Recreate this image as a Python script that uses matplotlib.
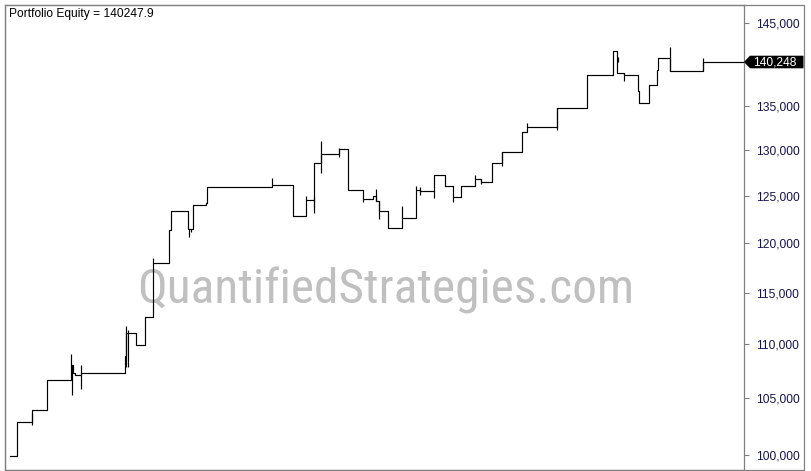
import numpy as np
import matplotlib
matplotlib.use("Agg")
import matplotlib.pyplot as plt
from matplotlib.patches import Polygon, Rectangle
from matplotlib.ticker import FixedLocator, NullLocator, FuncFormatter

# ---- data (bar index, equity) ----
step_x = [5, 12.3, 26.5, 42.3, 65.7, 67.7, 70, 75.7, 119.7, 121, 131, 140.3, 148.3,
          163.7, 164.3, 165.7, 183.3, 188.3, 201, 201.7, 267.3, 288.3, 301.3, 309.3,
          316.3, 334, 343.3, 358.3, 367.7, 371, 374, 383.3, 396.7, 411.3, 415, 429.3,
          440.3, 448.3, 455.7, 470.3, 476, 487.3, 497.3, 517.3, 521.7, 551.7, 581.7,
          608.3, 612.3, 619.3, 633.3, 634, 643.7, 651.7, 653.3, 665, 697.7, 739]
step_y = [99900, 102854, 103920, 106640, 108054, 107340, 107100, 107285, 108894, 111071,
          109930, 112640, 117938, 119738, 121367, 123368, 121472, 123975, 124253, 125911,
          126161, 122807, 124542, 128604, 129571, 130130, 125618, 124617, 125005, 124434,
          123368, 121544, 122627, 125586, 125478, 127251, 126020, 124864, 126020, 126813,
          126454, 128538, 129850, 132015, 132652, 134770, 138689, 141543, 138892, 138653,
          136793, 135387, 137501, 139287, 140730, 139132, 140248, 140248]

spike_x = [26.5, 65.7, 67, 75.7, 120.7, 123.3, 148.3, 184, 186, 267.3, 301.3, 308.7,
           309.3, 316.3, 334, 358.3, 371, 374, 396.7, 411.3, 415, 429.3, 448.3, 470.3,
           476, 497.3, 521.7, 551.7, 612.7, 619.3, 665, 697.7]
spike_lo = [102616, 108054, 105327, 105845, 107896, 107896, 117938, 120670, 121190,
            126161, 124542, 123826, 123124, 127502, 129204, 124360, 124434, 122490,
            122627, 125586, 125111, 124789, 124296, 126813, 126268, 128273, 132652,
            132277, 140210, 138010, 139132, 139132]
spike_hi = [103680, 109082, 108054, 108054, 111743, 111358, 118447, 121472, 121472,
            126891, 124940, 124912, 124542, 131030, 130208, 124617, 125694, 124434,
            123867, 126053, 125970, 125478, 124864, 127251, 126813, 129850, 133111,
            134770, 140887, 138964, 142105, 140694]

y_ticks = [100000, 105000, 110000, 115000, 120000, 125000, 130000, 135000, 145000]
last_value = 140247.9
title_text = "Portfolio Equity = 140247.9"
watermark = "QuantifiedStrategies.com"

# ---- figure ----
W, H = 811, 471
fig = plt.figure(figsize=(W / 100, H / 100), dpi=100)
fig.patch.set_facecolor("white")
ax = fig.add_axes([5 / W, 1 - 470 / H, (744 - 5) / W, (470 - 5) / H])
ax.set_facecolor("white")

ax.set_yscale("log")
ax.set_ylim(98717, 147300)
ax.set_xlim(0, 739)

ax.step(step_x, step_y, where="post", color="black", lw=0.85, zorder=3)
ax.vlines(spike_x, spike_lo, spike_hi, color="black", lw=0.85, zorder=3)

# y axis on right
ax.yaxis.tick_right()
ax.yaxis.set_major_locator(FixedLocator(y_ticks))
ax.yaxis.set_minor_locator(NullLocator())
ax.yaxis.set_major_formatter(FuncFormatter(lambda v, p: f"{v:,.0f}"))
ax.tick_params(axis="y", which="major", direction="out", length=3.6, width=0.8,
               color="#808080", pad=5, labelsize=8.64, labelcolor="#141450")
for lab in ax.get_yticklabels():
    lab.set_fontfamily("Liberation Sans")
ax.set_xticks([])
for s in ax.spines.values():
    s.set_color("#808080")
    s.set_linewidth(0.9)

# title text
ax.text(0.005, 0.993, title_text, transform=ax.transAxes, ha="left", va="top",
        fontsize=8.64, family="Liberation Sans", color="black")

# watermark
ax.text(0.5153, 0.3585, watermark, transform=ax.transAxes, ha="center", va="baseline",
        fontsize=35.6, family="Roboto Condensed", color="#c0c0c0", zorder=1)

# outer border
fig.add_artist(Rectangle((5 / W, 1 - 470 / H), (804 - 5) / W, (470 - 5) / H,
                         transform=fig.transFigure, fill=False, ec="#808080", lw=0.9))

# last value label box
fig.canvas.draw()
_, yd = ax.transData.transform((0, last_value))
xl = ax.transAxes.transform((1, 0))[0]
h = 6.3
poly = Polygon([(xl, yd), (xl + 6, yd + h), (804 - 0.5, yd + h), (804 - 0.5, yd - h),
                (xl + 6, yd - h)], closed=True, fc="black", ec="black", lw=0,
               transform=None, zorder=5)
fig.add_artist(poly)
fig.text((xl + 9) / W, yd / H, f"{last_value:,.0f}", ha="left", va="center",
         fontsize=8.64, family="Liberation Sans", color="white", zorder=6)

fig.savefig("out.png", dpi=100, facecolor="white")
